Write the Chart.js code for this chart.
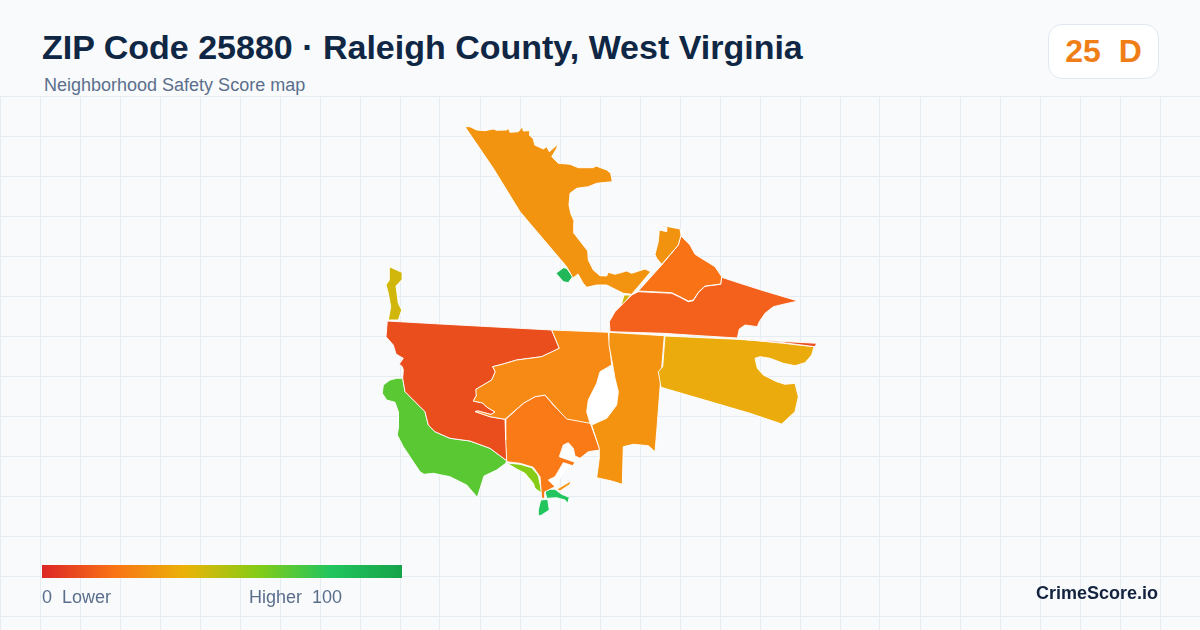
<!DOCTYPE html>
<html>
<head>
<meta charset="utf-8">
<title>ZIP Code 25880</title>
<script src="https://cdn.jsdelivr.net/npm/chart.js@4"></script>
<style>
  html, body { margin: 0; padding: 0; }
  body { width: 1200px; height: 630px; position: relative; overflow: hidden; background: #f8fafc; font-family: "Liberation Sans", Arial, sans-serif; }
  #map { position: absolute; left: 0; top: 96px; }
  .abs { position: absolute; white-space: pre; line-height: 1; }
  #title { left: 42px; top: 30px; font-size: 34px; font-weight: 700; color: #0f2744; }
  #subtitle { left: 44px; top: 76px; font-size: 18px; color: #5b6f8c; }
  #badge { left: 1048px; top: 24px; width: 109px; height: 53px; background: #fff; border: 1px solid #e2e8f0; border-radius: 14px; }
  #badgeText { left: 1048px; top: 35px; width: 111px; text-align: center; font-size: 32px; font-weight: 700; color: #f07e16; }
  #ramp { left: 42px; top: 565px; width: 360px; height: 13px; background: linear-gradient(90deg, #dc2626 0%, #f97316 20%, #eab308 40%, #84cc16 60%, #22c55e 80%, #16a34a 100%); }
  #lower { left: 42px; top: 588px; font-size: 18px; color: #5b6f8c; }
  #higher { left: 249px; top: 588px; font-size: 18px; color: #5b6f8c; }
  #brand { right: 42px; top: 584px; font-size: 18px; font-weight: 700; color: #13233f; }
</style>
</head>
<body>
<canvas id="map" width="1200" height="534"></canvas>
<div class="abs" id="title">ZIP Code 25880 · Raleigh County, West Virginia</div>
<div class="abs" id="subtitle">Neighborhood Safety Score map</div>
<div class="abs" id="badge"></div>
<div class="abs" id="badgeText">25  D</div>
<div class="abs" id="ramp"></div>
<div class="abs" id="lower">0  Lower</div>
<div class="abs" id="higher">Higher  100</div>
<div class="abs" id="brand">CrimeScore.io</div>
<script>
// Tract outlines as [x, y] in map units
const northTract = [[465,126.7],[470,126.7],[476.7,130],[485,130.7],[493.3,129],[496.7,130.3],[506.7,130],[508.3,128.3],[510,132.3],[518.3,131.7],[522.3,126.7],[523.3,131],[530,130.7],[529.3,135],[533.3,139],[534.7,145],[543.3,149],[546.7,146.7],[549.3,151.7],[557.7,144.3],[556.7,148.3],[551.7,156.7],[558.3,163.3],[570,164.3],[578.3,167.7],[593.3,167.7],[596,166],[606.7,170],[610.7,173.3],[612.3,181.7],[596.7,183.3],[588.3,186.7],[576.7,188.3],[570,193.3],[569,205],[570.7,213.3],[574.3,221.7],[574,233.3],[581.7,243.3],[587.7,251],[588.3,260],[593.3,270],[600,275.7],[606.7,276],[608.3,272.3],[615,274.3],[626.7,271],[631.7,273.3],[645,269],[650.7,271.7],[631.7,294.3],[623.3,293.3],[616.7,290],[606.7,285],[596.7,285],[586.7,287.3],[583,283],[578,274],[573,278],[566.7,266.7],[520,211.7],[493.3,168.3]]
const smallGreenTract = [[556,273.3],[563.3,267.7],[566.7,268.3],[572.7,276.7],[568.3,282.7],[563.3,281.7]]
const hookTract = [[655,225],[663.3,225.7],[680,229],[681,235],[678.3,245],[661.7,264.3],[656.7,258.3],[655,254.3],[658.3,241.7],[659.3,230],[666.7,231.7],[667,227.3]]
const northeastTract = [[681,229],[681.7,236.7],[690,245],[695,254.3],[715,266.7],[721.7,276.7],[720.7,284],[705,286],[698.3,292.3],[693.3,300],[688.3,301],[680,296.7],[671.7,292.7],[638.3,291],[661.7,265],[678.3,245],[681,235]]
const eastTract = [[638.3,291.7],[671.7,293.3],[680,297.3],[688.3,301.7],[693.3,300.7],[698.3,292.7],[705,286.3],[720.7,284.3],[721.7,277.3],[740,283.3],[763.3,290.7],[798,301],[783.3,304.3],[773.3,306.7],[765,313.3],[759.3,321.7],[757.3,326.7],[745,325],[739.3,329],[737.3,338],[700,335.7],[663.3,333.3],[610,331.7],[609.3,321.7],[615,311.7],[631.7,295]]
const stripTract = [[741.7,339.3],[816.7,343.3],[815,346.7],[783.3,342.7],[753.3,340.3]]
const goldTract = [[665,336],[731.7,339],[750,340],[783.3,343.3],[814,346.7],[811.7,355],[805,362.7],[795,365.7],[783.3,363.3],[770,358.3],[760,356.7],[755,358.3],[757.3,368.3],[763.3,375],[776.7,381.7],[785,384.3],[795,383.3],[798.3,396.7],[795,411.7],[781.7,424],[750,413.3],[661,387.3],[658.3,371.7],[662.7,366.7]]
const centralTract = [[609,332.3],[664.3,335.7],[660,388.3],[656.7,431.7],[655,451.7],[648.3,445.7],[633.3,444.3],[623.3,446.7],[622.3,484.3],[611.7,481],[596.7,477.7],[599.3,458.3],[599.3,448.3],[591.7,425],[606.7,418.3],[616.7,405],[618.3,391.7],[615,378.3],[612.7,365],[609,345]]
const midwestTract = [[551.7,330],[608.3,332.3],[611.7,365],[600,371.7],[596.7,383.3],[588.3,400],[586.7,411.7],[590,423.3],[566.7,419],[556.7,408.3],[545,395],[535,396.7],[523.3,403.3],[505,419.3],[490,416.7],[475,411.5],[478,411],[491,414.5],[495,412],[486.7,407],[482.7,403],[473.3,401],[476.7,395],[476,389.3],[491.7,380],[495.3,371.7],[492.7,366.7],[503.3,364],[516.7,360],[541.7,356.7],[559.3,348.3]]
const westTract = [[387.3,321],[445,324.3],[551.7,330],[559.3,348.3],[541.7,356.7],[516.7,360],[503.3,364],[492.7,366.7],[495.3,371.7],[491.7,380],[476,389.3],[476.7,395],[473.3,401],[482.7,403],[486.7,407],[495,412],[491,414.5],[478,411],[475,411.5],[490,416.7],[505,419.3],[505.7,440],[506.7,460.7],[490,448.3],[470,441],[450,438.3],[435,431.7],[428.3,425],[425,411.7],[405,391.7],[402.7,378.3],[403.3,370],[402.3,366.7],[399.3,364],[403.3,358.3],[396,354],[393.3,345],[386,336.7]]
const southwestTract = [[402.7,378.3],[396.7,378.3],[390,380],[383.3,385],[382.3,393.3],[386.7,400],[395,402.3],[398.3,411.7],[398.3,428.3],[397.3,435],[403.3,446.7],[420,471.7],[424,474.3],[433.3,473.3],[450,476.7],[466.7,485],[477.3,497.3],[484,476],[496.7,470],[505.7,463.3],[506.7,460.7],[490,448.3],[470,441],[450,438.3],[435,431.7],[428.3,425],[425,411.7],[405,391.7]]
const southTract = [[505,420],[523.3,403.3],[535,396.7],[545,395],[553.3,405],[566.7,418.3],[590,422.3],[600,450],[588.3,451.7],[580,458.3],[575,456],[573.3,448.3],[568.3,442.7],[563.3,445],[559.3,456.7],[575,462.3],[572.7,465.7],[563.3,462.7],[555,476.7],[548.3,480],[555,486.7],[545,491.7],[545,498.3],[541.7,498.3],[540,476.7],[533.3,467.3],[520,463.3],[506.7,461.7],[505,440]]
const limeTract = [[506.7,463],[520,464.3],[531.7,467.7],[538,475],[540.7,486.7],[541.7,493.3],[535,488.3],[533.3,483.3],[525,473.3],[516.7,469]]
const slimOrangeTract = [[556.7,489.3],[571,481],[570,484.3],[560,491]]
const islandTract = [[545,491],[550,489.3],[555,489.3],[561.7,494.3],[569.3,497.3],[567.7,503.3],[565,500],[556.7,497.7],[546.7,498.3]]
const tipTract = [[540.7,500],[547.7,499.3],[549.3,510],[541.7,515],[538.3,516],[538.3,510]]
const northwestTract = [[389.3,266.7],[402.7,272.7],[402.3,279.3],[396,286],[398.3,303.3],[401.7,310],[398.3,320],[388.3,320],[390.7,306.7],[388.3,293.3],[386,285],[389.3,280]]
const wedgeTract = [[624,295],[630.7,295],[622.7,305],[621.7,303.3]]
// Areas with no score, filled white (no grid shows through them)
const parkTract = [[611.7,365],[600,371.7],[596.7,383.3],[588.3,400],[586.7,411.7],[590,423.3],[606.7,418.3],[616.7,405],[618.3,391.7],[615,378.3]]
const coveTract = [[568.3,442.7],[573.3,448.3],[575,456],[572.7,465.7],[563.3,463],[555,476.7],[548.3,480],[555,486.7],[558,482],[565,470],[575,462.3],[559.3,456.7]]

const tracts = [northTract, smallGreenTract, hookTract, northeastTract, eastTract, stripTract, goldTract, centralTract, midwestTract, westTract, southwestTract, southTract, limeTract, slimOrangeTract, islandTract, tipTract, northwestTract, wedgeTract, parkTract, coveTract]
const tractColors = ["#f39410", "#22b85a", "#f29310", "#f97316", "#f4611c", "#e8501f", "#ecab0d", "#f3930f", "#f68a14", "#e94e1c", "#5ac833", "#fa7a17", "#86cc16", "#f39410", "#22c55e", "#22c55e", "#d1b70c", "#d1b70c", "#ffffff", "#ffffff"]

// Background grid positions
const gridX = [0,40,80,120,160,200,240,280,320,360,400,440,480,520,560,600,640,680,720,760,800,840,880,920,960,1000,1040,1080,1120,1160,1200]
const gridY = [96,136,176,216,256,296,336,376,416,456,496,536,576,616]

function setTicks(values) {
  return (scale) => { scale.ticks = values.map((value) => ({ value })) }
}

new Chart(document.getElementById("map"), {
  type: "scatter",
  data: {
    datasets: tracts.map((outline, i) => ({
      data: outline.concat([outline[0]]).map((p) => ({ x: p[0], y: p[1] })),
      showLine: true,
      fill: "shape",
      tension: 0,
      pointRadius: 0,
      pointHoverRadius: 0,
      backgroundColor: tractColors[i],
      borderColor: "rgba(255,255,255,0.9)",
      borderWidth: 1,
    })),
  },
  options: {
    responsive: false,
    animation: false,
    layout: { padding: 0 },
    events: [],
    plugins: { legend: { display: false }, tooltip: { enabled: false } },
    scales: {
      x: {
        type: "linear",
        min: 0,
        max: 1200,
        afterBuildTicks: setTicks(gridX),
        ticks: { display: false },
        border: { display: false },
        grid: { color: "#e6edf2", lineWidth: 1, drawTicks: false },
      },
      y: {
        type: "linear",
        reverse: true,
        min: 96,
        max: 630,
        afterBuildTicks: setTicks(gridY),
        ticks: { display: false },
        border: { display: false },
        grid: { color: "#e6edf2", lineWidth: 1, drawTicks: false },
      },
    },
  },
})
</script>
</body>
</html>
